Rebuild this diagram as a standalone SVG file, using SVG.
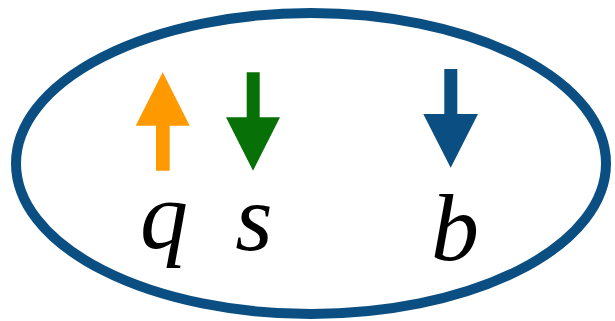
<svg xmlns="http://www.w3.org/2000/svg" width="615" height="321" viewBox="0 0 615 321">
<style>
.lbl{font-family:"Liberation Serif","Times New Roman",serif;font-style:italic;font-size:96px;fill:#000;text-anchor:middle}
</style>
<rect width="615" height="321" fill="#fff"/>
<g id="boundary">
<ellipse cx="311" cy="163.5" rx="295" ry="150.5" fill="none" stroke="#0b4f82" stroke-width="10"/>
</g>
<g id="arrows">
<g id="arrow-q"><polygon points="162.7,72.3 189.7,125.7 169.7,125.7 169.7,170.7 156,170.7 156,125.7 135.7,125.7" fill="#ff9900"/></g>
<g id="arrow-s"><polygon points="246.7,72.3 259.7,72.3 259.7,117.3 280,117.3 253,170.7 226,117.3 246.7,117.3" fill="#077107"/></g>
<g id="arrow-b"><polygon points="444.3,69 457.3,69 457.3,114 478,114 450.7,167.7 423.3,114 444.3,114" fill="#0b4f82"/></g>
</g>
<g id="label-q"><text class="lbl" x="164" y="248" font-size="94">q</text></g>
<g id="label-s"><text class="lbl" x="254" y="250">s</text></g>
<g id="label-b"><text class="lbl" x="455" y="260">b</text></g>
</svg>
